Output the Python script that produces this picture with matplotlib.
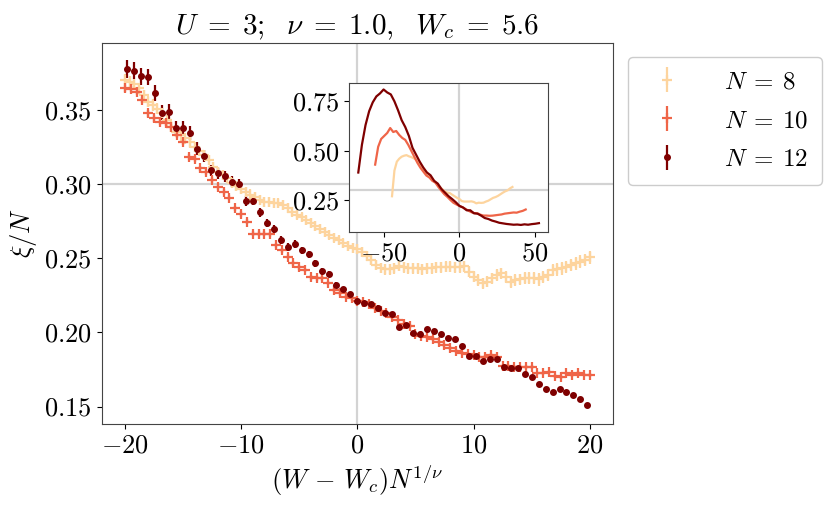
import numpy as np
import matplotlib
matplotlib.use("Agg")
import matplotlib.pyplot as plt

plt.rcParams['font.family'] = 'serif'
plt.rcParams['font.serif'] = ['cmr10', 'DejaVu Serif']
plt.rcParams['mathtext.fontset'] = 'cm'
plt.rcParams['axes.formatter.use_mathtext'] = True
plt.rcParams['axes.unicode_minus'] = True

# colours taken from OrRd
c8, c10, c12 = '#fdd49e', '#ef6548', '#7f0000'

# --- main panel: xi/N against (W - Wc) N^(1/nu), window |x| <= 20 ---
x8 = np.linspace(-20, 20, 101)
y8 = [0.3701, 0.3686, 0.3672, 0.3645, 0.3600, 0.3555, 0.3533, 0.3510, 0.3477, 0.3432,
      0.3387, 0.3353, 0.3330, 0.3308, 0.3281, 0.3252, 0.3223, 0.3196, 0.3162, 0.3117,
      0.3083, 0.3061, 0.3043, 0.3010, 0.2985,
      0.2965, 0.2945, 0.2930, 0.2914, 0.2892, 0.2881, 0.2877, 0.2875, 0.2870, 0.2860,
      0.2840, 0.2815, 0.2795, 0.2775, 0.2755, 0.2738, 0.2718, 0.2698, 0.2678, 0.2660,
      0.2640, 0.2620, 0.2600, 0.2584, 0.2572,
      0.2560, 0.2540, 0.2515, 0.2486, 0.2455, 0.2436, 0.2425, 0.2425, 0.2432, 0.2447,
      0.2438, 0.2432, 0.2432, 0.2432, 0.2425, 0.2432, 0.2432, 0.2438, 0.2438, 0.2442,
      0.2442, 0.2438, 0.2438, 0.2447, 0.2409,
      0.2375, 0.2353, 0.2330, 0.2341, 0.2364, 0.2386, 0.2398, 0.2375, 0.2341, 0.2353,
      0.2357, 0.2364, 0.2364, 0.2364, 0.2357, 0.2375, 0.2386, 0.2420, 0.2425, 0.2432,
      0.2442, 0.2454, 0.2465, 0.2476, 0.2488, 0.2506]
e8 = [0.0040, 0.0040, 0.0039, 0.0039, 0.0038, 0.0038, 0.0038, 0.0037, 0.0037, 0.0037,
      0.0036, 0.0036, 0.0036, 0.0036, 0.0035, 0.0035, 0.0035, 0.0035, 0.0035, 0.0035,
      0.0034, 0.0034, 0.0034, 0.0034, 0.0034,
      0.0034, 0.0034, 0.0034, 0.0033, 0.0033, 0.0033, 0.0033, 0.0033, 0.0033, 0.0033,
      0.0033, 0.0033, 0.0033, 0.0033, 0.0033, 0.0033, 0.0033, 0.0033, 0.0033, 0.0033,
      0.0033, 0.0033, 0.0033, 0.0034, 0.0034,
      0.0034, 0.0034, 0.0034, 0.0034, 0.0034, 0.0035, 0.0035, 0.0035, 0.0035, 0.0035,
      0.0035, 0.0035, 0.0035, 0.0036, 0.0036, 0.0036, 0.0036, 0.0036, 0.0036, 0.0037,
      0.0037, 0.0037, 0.0037, 0.0037, 0.0038,
      0.0038, 0.0038, 0.0038, 0.0038, 0.0039, 0.0039, 0.0039, 0.0039, 0.0039, 0.0040,
      0.0040, 0.0040, 0.0040, 0.0040, 0.0041, 0.0041, 0.0041, 0.0041, 0.0042, 0.0042,
      0.0042, 0.0042, 0.0043, 0.0043, 0.0043, 0.0044]

x10 = np.linspace(-20, 20, 81)
y10 = [0.3645, 0.3641, 0.3620, 0.3566, 0.3477, 0.3443, 0.3420, 0.3409, 0.3387, 0.3330,
       0.3281, 0.3184, 0.3169, 0.3106, 0.3083, 0.3027, 0.2982, 0.2948, 0.2908, 0.2836,
       0.2798, 0.2746, 0.2667, 0.2667, 0.2665, 0.2662, 0.2589, 0.2555, 0.2510, 0.2465,
       0.2438, 0.2420, 0.2371, 0.2364, 0.2364, 0.2334, 0.2285, 0.2263, 0.2240, 0.2229,
       0.2213, 0.2206, 0.2191, 0.2166, 0.2147, 0.2128, 0.2101, 0.2083, 0.2060, 0.2045,
       0.1989, 0.1975, 0.1971, 0.1953, 0.1937, 0.1914, 0.1892, 0.1876, 0.1863, 0.1854,
       0.1847, 0.1836, 0.1836, 0.1847, 0.1836, 0.1773, 0.1773, 0.1769, 0.1764, 0.1764,
       0.1764, 0.1723, 0.1723, 0.1734, 0.1705, 0.1701, 0.1723, 0.1712, 0.1727, 0.1716,
       0.1712]
e10 = [0.0022, 0.0022, 0.0022, 0.0021, 0.0021, 0.0021, 0.0021, 0.0020, 0.0020, 0.0020,
       0.0020, 0.0020, 0.0019, 0.0019, 0.0019, 0.0019, 0.0019, 0.0018, 0.0018, 0.0018,
       0.0018, 0.0018, 0.0018, 0.0017, 0.0017, 0.0017, 0.0017, 0.0017, 0.0017, 0.0016,
       0.0016, 0.0016, 0.0016, 0.0016, 0.0016, 0.0016, 0.0015, 0.0015, 0.0015, 0.0015,
       0.0015, 0.0015, 0.0015, 0.0015, 0.0015, 0.0014, 0.0014, 0.0014, 0.0014, 0.0014,
       0.0014, 0.0014, 0.0014, 0.0014, 0.0014, 0.0014, 0.0014, 0.0013, 0.0013, 0.0013,
       0.0013, 0.0013, 0.0013, 0.0013, 0.0013, 0.0013, 0.0013, 0.0013, 0.0013, 0.0013,
       0.0013, 0.0013, 0.0013, 0.0013, 0.0013, 0.0013, 0.0013, 0.0013, 0.0013, 0.0013,
       0.0013]

x12 = np.linspace(-19.8, 19.8, 67)
y12 = [0.3775, 0.3764, 0.3728, 0.3722, 0.3616, 0.3483, 0.3488, 0.3380, 0.3380, 0.3344,
       0.3238, 0.3191, 0.3092, 0.3074, 0.3054, 0.3016, 0.2998,
       0.2885, 0.2887, 0.2809, 0.2739, 0.2697, 0.2622, 0.2575, 0.2595, 0.2555, 0.2528,
       0.2465, 0.2415, 0.2395, 0.2319, 0.2290, 0.2256, 0.2211,
       0.2200, 0.2191, 0.2166, 0.2132, 0.2121, 0.2038, 0.2049, 0.1993, 0.1989, 0.2020,
       0.2011, 0.1989, 0.1959, 0.1957, 0.1910, 0.1842, 0.1840, 0.1806, 0.1822, 0.1820,
       0.1768, 0.1761, 0.1757, 0.1719, 0.1696, 0.1651, 0.1620, 0.1599, 0.1616, 0.1597,
       0.1579, 0.1552, 0.1510]
e12 = [0.0060, 0.0058, 0.0058, 0.0056, 0.0055,
       0.0052, 0.0050, 0.0048, 0.0047, 0.0045, 0.0044,
       0.0042, 0.0040, 0.0038, 0.0037, 0.0036, 0.0034,
       0.0033, 0.0031, 0.0030, 0.0029, 0.0028, 0.0027,
       0.0026, 0.0025, 0.0024, 0.0023, 0.0022, 0.0021,
       0.0020, 0.0019, 0.0019, 0.0018, 0.0018, 0.0017,
       0.0017, 0.0016, 0.0016, 0.0015, 0.0015, 0.0015,
       0.0014, 0.0014, 0.0014, 0.0014, 0.0014, 0.0014,
       0.0013, 0.0013, 0.0013, 0.0013, 0.0013, 0.0013,
       0.0012, 0.0012, 0.0012, 0.0012, 0.0012, 0.0012,
       0.0012, 0.0012, 0.0012, 0.0012, 0.0012, 0.0012,
       0.0011, 0.0011]

# --- inset: full W range, coarser grid ---
xin8 = np.linspace(-44.8, 35.2, 51)
yin8 = [0.270, 0.400, 0.445, 0.460, 0.470, 0.475, 0.478, 0.472, 0.468, 0.462,
        0.455, 0.445, 0.425, 0.405, 0.385, 0.374, 0.367, 0.353, 0.339, 0.328,
        0.316, 0.304, 0.2945, 0.288, 0.2860, 0.2775, 0.2698, 0.2620, 0.2560, 0.2455,
        0.2432, 0.2432, 0.2432, 0.2442, 0.2409, 0.2341, 0.2375, 0.2364, 0.2375, 0.2432,
        0.2476, 0.255, 0.262, 0.266, 0.272, 0.280, 0.288, 0.295, 0.300, 0.310,
        0.317]
xin10 = np.linspace(-56, 44, 51)
yin10 = [0.430, 0.520, 0.560, 0.575, 0.590, 0.615, 0.595, 0.600, 0.580, 0.565,
         0.555, 0.530, 0.500, 0.470, 0.440, 0.415, 0.395, 0.375, 0.365, 0.348,
         0.339, 0.317, 0.298, 0.280, 0.2665, 0.251, 0.237, 0.2285, 0.221, 0.2147,
         0.206, 0.197, 0.189, 0.1847, 0.1836, 0.1764, 0.1723, 0.1723, 0.1712, 0.172,
         0.174, 0.176, 0.178, 0.182, 0.184, 0.186, 0.188, 0.187, 0.192, 0.196,
         0.203]
xin12 = np.linspace(-67.2, 52.8, 51)
yin12 = [0.390, 0.530, 0.630, 0.700, 0.745, 0.775, 0.790, 0.810, 0.795, 0.785,
         0.750, 0.705, 0.655, 0.620, 0.575, 0.515, 0.480, 0.445, 0.415, 0.390,
         0.376, 0.348, 0.334, 0.307, 0.2885, 0.270, 0.2555, 0.2395, 0.221, 0.213,
         0.199, 0.199, 0.184, 0.182, 0.172, 0.160, 0.155, 0.147, 0.142, 0.136,
         0.133, 0.130, 0.128, 0.126, 0.127, 0.125, 0.128, 0.126, 0.129, 0.131,
         0.134]

fig = plt.figure(figsize=(8.3, 5.09), dpi=100)
ax = fig.add_axes([0.1225, 0.167, 0.616, 0.7485])

grey = '#d3d3d3'
ax.axhline(0.3, color=grey, lw=1.6, zorder=0)
ax.axvline(0, color=grey, lw=1.6, zorder=0)

ax.errorbar(x8, y8, yerr=e8, fmt='+', color=c8, ms=7, mew=1.6, elinewidth=1.6,
            label=r'$N\:=\:8$')
ax.errorbar(x10, y10, yerr=e10, fmt='+', color=c10, ms=7, mew=1.6, elinewidth=1.6,
            label=r'$N\:=\:10$')
ax.errorbar(x12, y12, yerr=e12, fmt='o', color=c12, ms=4, elinewidth=1.6,
            label=r'$N\:=\:12$')

ax.set_title(r'$U\;=\;3;\ \ \nu\;=\;1.0,\ \ W_c\;=\;5.6$', fontsize=21)
ax.set_xlabel(r'$(W\,-\,W_c)N^{1/\nu}$', fontsize=19)
ax.set_ylabel(r'$\xi/N$', fontsize=19)
ax.tick_params(labelsize=19)
for s in ax.spines.values():
    s.set_color('#444444')

fig.legend(loc='upper left', bbox_to_anchor=(0.7566, 0.888), borderaxespad=0,
           fontsize=18, framealpha=1, edgecolor='#cccccc', fancybox=True,
           handletextpad=1.3, borderpad=0.55, labelspacing=0.65)

axin = fig.add_axes([0.4208, 0.5448, 0.2394, 0.2927])
axin.axhline(0.3, color=grey, lw=1.6, zorder=0)
axin.axvline(0, color=grey, lw=1.6, zorder=0)
axin.plot(xin8, yin8, color=c8, lw=1.6)
axin.plot(xin10, yin10, color=c10, lw=1.6)
axin.plot(xin12, yin12, color=c12, lw=1.6)
axin.set_yticks([0.25, 0.5, 0.75])
axin.set_xticks([-50, 0, 50])
axin.tick_params(labelsize=19)
for s in axin.spines.values():
    s.set_color('#444444')

fig.savefig('out.png', dpi=100)
